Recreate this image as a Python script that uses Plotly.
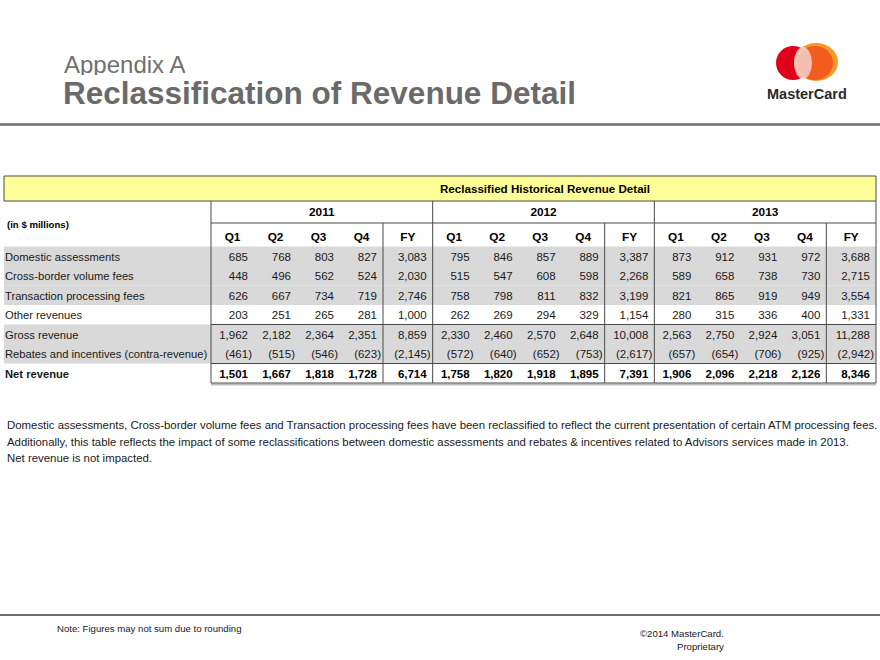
import plotly.graph_objects as go

# ---------------- data ----------------
years = ["2011", "2012", "2013"]
periods = ["Q1", "Q2", "Q3", "Q4", "FY"]
row_labels = [
    "Domestic assessments",
    "Cross-border volume fees",
    "Transaction processing fees",
    "Other revenues",
    "Gross revenue",
    "Rebates and incentives (contra-revenue)",
    "Net revenue",
]
domestic = [685, 768, 803, 827, 3083, 795, 846, 857, 889, 3387, 873, 912, 931, 972, 3688]
cross_border = [448, 496, 562, 524, 2030, 515, 547, 608, 598, 2268, 589, 658, 738, 730, 2715]
transaction = [626, 667, 734, 719, 2746, 758, 798, 811, 832, 3199, 821, 865, 919, 949, 3554]
other = [203, 251, 265, 281, 1000, 262, 269, 294, 329, 1154, 280, 315, 336, 400, 1331]
gross = [1962, 2182, 2364, 2351, 8859, 2330, 2460, 2570, 2648, 10008, 2563, 2750, 2924, 3051, 11288]
rebates = [-461, -515, -546, -623, -2145, -572, -640, -652, -753, -2617, -657, -654, -706, -925, -2942]
net = [1501, 1667, 1818, 1728, 6714, 1758, 1820, 1918, 1895, 7391, 1906, 2096, 2218, 2126, 8346]
rows = [domestic, cross_border, transaction, other, gross, rebates, net]
shaded_rows = [0, 1, 2, 4, 5]
bold_rows = [6]

title_small = "Appendix A"
title_big = "Reclassification of Revenue Detail"
table_title = "Reclassified Historical Revenue Detail"
unit_label = "(in $ millions)"
footnote = [
    "Domestic assessments, Cross-border volume fees and Transaction processing fees have been reclassified to reflect the current presentation of certain ATM processing fees.",
    "Additionally, this table reflects the impact of some reclassifications between domestic assessments and rebates & incentives related to Advisors services made in 2013.",
    "Net revenue is not impacted.",
]
note = "Note: Figures may not sum due to rounding"
copyright_lines = ["©2014 MasterCard.", "Proprietary"]

# ---------------- geometry ----------------
FONT = "Liberation Sans, Arial, sans-serif"
FS = 11.5
X_LEFT, X_DATA, X_RIGHT = 4, 211, 876
Q_W = 43
GROUP_W = (X_RIGHT - X_DATA) / len(years)
FY_W = GROUP_W - 4 * Q_W
Y_BOX_TOP, Y_BOX_BOT = 176, 201
Y_YEAR_LINE = 223
ROW_TOP = 246.5
ROW_H = 19.5
Y_BOTTOM = ROW_TOP + ROW_H * len(rows)
LINE_C = "#4a4a4a"
TEXT_C = "#1a1a1a"


def col_edges(ci):
    g, p = divmod(ci, len(periods))
    left = X_DATA + g * GROUP_W + p * Q_W
    right = left + (Q_W if p < 4 else FY_W)
    return left, right


def fmt(v):
    s = f"{abs(v):,}"
    return f"({s})" if v < 0 else s


fig = go.Figure()
shapes = []

# top / bottom page rules
shapes.append(dict(type="line", x0=0, x1=880, y0=124.5, y1=124.5, line=dict(color="#6e6e6e", width=2.5)))
shapes.append(dict(type="line", x0=0, x1=880, y0=615, y1=615, line=dict(color="#6e6e6e", width=2)))

# yellow title box
shapes.append(dict(type="rect", x0=X_LEFT, x1=X_RIGHT, y0=Y_BOX_TOP, y1=Y_BOX_BOT,
                   fillcolor="#FFFF99", line=dict(color=LINE_C, width=1)))

# row shading
for r in shaded_rows:
    shapes.append(dict(type="rect", x0=X_LEFT, x1=X_RIGHT, y0=ROW_TOP + r * ROW_H, y1=ROW_TOP + (r + 1) * ROW_H,
                       fillcolor="#D9D9D9", line=dict(width=0), layer="below"))

# vertical lines
for g in range(len(years) + 1):
    x = X_DATA + g * GROUP_W
    shapes.append(dict(type="line", x0=x, x1=x, y0=Y_BOX_BOT, y1=Y_BOTTOM, line=dict(color=LINE_C, width=1)))
for g in range(len(years)):
    x = X_DATA + g * GROUP_W + 4 * Q_W
    shapes.append(dict(type="line", x0=x, x1=x, y0=Y_YEAR_LINE, y1=Y_BOTTOM, line=dict(color=LINE_C, width=1)))

# horizontal lines
for y in [Y_YEAR_LINE, ROW_TOP + 4 * ROW_H, ROW_TOP + 6 * ROW_H]:
    shapes.append(dict(type="line", x0=X_DATA, x1=X_RIGHT, y0=y, y1=y, line=dict(color=LINE_C, width=1)))
shapes.append(dict(type="line", x0=X_DATA, x1=X_RIGHT, y0=Y_BOTTOM + 1.5, y1=Y_BOTTOM + 1.5, line=dict(color="#bdbdbd", width=2)))
shapes.append(dict(type="line", x0=X_DATA, x1=X_RIGHT, y0=Y_BOTTOM, y1=Y_BOTTOM, line=dict(color=LINE_C, width=1.2)))

# MasterCard logo circles
shapes.append(dict(type="circle", x0=776, x1=810, y0=46, y1=80, fillcolor="#E0001B", line=dict(width=0)))
shapes.append(dict(type="circle", x0=794, x1=838, y0=43, y1=81, fillcolor="#F7941D", line=dict(width=0), opacity=0.95))
shapes.append(dict(type="circle", x0=797, x1=833, y0=46, y1=80, fillcolor="#EE4A1B", line=dict(width=0), opacity=0.75))
shapes.append(dict(type="circle", x0=794, x1=812, y0=47, y1=79, fillcolor="#F6D7D7", line=dict(width=0), opacity=0.8))

# ---------------- table text ----------------
cell_font = dict(family=FONT, size=FS, color=TEXT_C)
bold_font = dict(family=FONT, size=FS, color="#000000", weight="bold")

for r, vals in enumerate(rows):
    yc = ROW_TOP + (r + 0.5) * ROW_H + 1.5
    xs = []
    for ci, v in enumerate(vals):
        left, right = col_edges(ci)
        xs.append(right - (2 if v < 0 else 6))
    fig.add_trace(go.Scatter(
        x=xs, y=[yc] * len(vals), mode="text", text=[fmt(v) for v in vals],
        textposition="middle left",
        textfont=bold_font if r in bold_rows else cell_font,
        hoverinfo="skip", showlegend=False))

# row labels
fig.add_trace(go.Scatter(
    x=[5] * len(row_labels),
    y=[ROW_TOP + (r + 0.5) * ROW_H + 1.5 for r in range(len(row_labels))],
    mode="text", text=[f"<b>{t}</b>" if i in bold_rows else t for i, t in enumerate(row_labels)],
    textposition="middle right", textfont=dict(family=FONT, size=11.2, color=TEXT_C),
    hoverinfo="skip", showlegend=False))

# year headers
fig.add_trace(go.Scatter(
    x=[X_DATA + (g + 0.5) * GROUP_W for g in range(len(years))], y=[213.5] * len(years),
    mode="text", text=[f"<b>{y}</b>" for y in years], textposition="middle center",
    textfont=dict(family=FONT, size=11.8, color="#000000"), hoverinfo="skip", showlegend=False))

# period headers
px, pt = [], []
for ci in range(len(years) * len(periods)):
    left, right = col_edges(ci)
    px.append((left + right) / 2)
    pt.append(f"<b>{periods[ci % len(periods)]}</b>")
fig.add_trace(go.Scatter(
    x=px, y=[238.5] * len(px), mode="text", text=pt, textposition="middle center",
    textfont=dict(family=FONT, size=11.8, color="#000000"), hoverinfo="skip", showlegend=False))

ann = []
ann.append(dict(x=(X_DATA + X_RIGHT) / 2 + 1, y=(Y_BOX_TOP + Y_BOX_BOT) / 2, text=f"<b>{table_title}</b>",
                font=dict(family=FONT, size=11.6, color="#000000")))
ann.append(dict(x=5, y=224, text=f"<b>{unit_label}</b>", xanchor="left",
                font=dict(family=FONT, size=9.6, color="#000000")))

# titles
ann.append(dict(x=62, y=64, text=title_small, xanchor="left", height=22,
                font=dict(family=FONT, size=24, color="#707070")))
ann.append(dict(x=61, y=92.5, text=f"<b>{title_big}</b>", xanchor="left", height=26,
                font=dict(family=FONT, size=31.5, color="#6a6a6a")))
ann.append(dict(x=807, y=94, text="<b>MasterCard</b>", xanchor="center",
                font=dict(family=FONT, size=14.5, color="#2a2a2a")))

# footnote
for i, line in enumerate(footnote):
    ann.append(dict(x=5, y=425 + i * 16.5, text=line, xanchor="left",
                    font=dict(family=FONT, size=11.4, color=TEXT_C)))
ann.append(dict(x=55, y=628, text=note, xanchor="left",
                font=dict(family=FONT, size=9.6, color=TEXT_C)))
ann.append(dict(x=726, y=633, text=copyright_lines[0], xanchor="right",
                font=dict(family=FONT, size=9.6, color=TEXT_C)))
ann.append(dict(x=726, y=646, text=copyright_lines[1], xanchor="right",
                font=dict(family=FONT, size=9.6, color=TEXT_C)))

for a in ann:
    a.update(xref="x", yref="y", showarrow=False, yanchor=a.get("yanchor", "middle"))

fig.update_layout(
    width=880, height=660, margin=dict(l=0, r=0, t=0, b=0),
    paper_bgcolor="white", plot_bgcolor="white",
    xaxis=dict(range=[0, 880], visible=False, fixedrange=True),
    yaxis=dict(range=[660, 0], visible=False, fixedrange=True),
    shapes=shapes, annotations=ann, showlegend=False,
)

fig.write_html("out.html", config={"displayModeBar": False},
               post_script="document.body.style.margin='0';")
